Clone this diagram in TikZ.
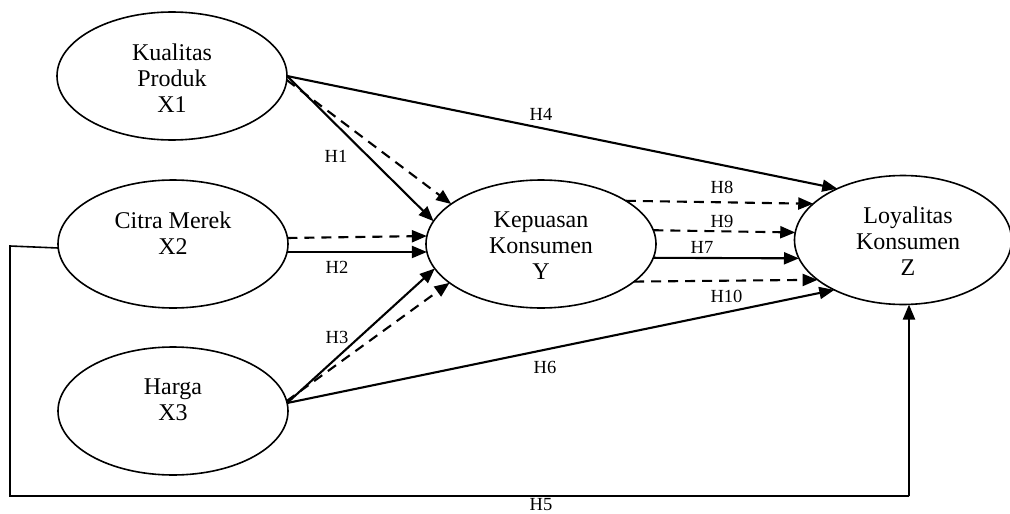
\documentclass[tikz,border=0pt]{standalone}
\usepackage{fontspec}
\setmainfont{Liberation Serif}
\usetikzlibrary{shapes.geometric,arrows.meta,calc}
\tikzset{
  ell/.style={draw, ellipse, line width=1.6pt, inner sep=0pt, outer sep=0pt,
              minimum width=230pt, minimum height=128pt},
  vtext/.style={align=center, inner sep=0pt, font=\fontsize{24}{26}\selectfont},
  hlbl/.style={inner sep=0pt, font=\fontsize{18.5}{20}\selectfont},
  arr/.style={line width=2.1pt, -{Triangle[length=15pt,width=12pt]}},
  darr/.style={arr, dash pattern=on 10pt off 7pt},
  thinline/.style={line width=1.6pt}
}
\begin{document}
\begin{tikzpicture}[x=1pt,y=-1pt]
\useasboundingbox (0,0) rectangle (1010,514);
% ellipses
\node[ell] (X1) at (172,76) {};
\node[ell] (X2) at (173,244) {};
\node[ell] (X3) at (173,411) {};
\node[ell] (Y) at (541,244) {};
\node[ell, minimum width=217pt, minimum height=129pt] (Z) at (903,240) {};
% texts
\node[vtext] (tX1) at (172,78) {Kualitas\\Produk\\X1};
\node[vtext] (tX2) at (173,233) {Citra Merek\\X2};
\node[vtext] (tX3) at (173,400) {Harga\\X3};
\node[vtext] (tY) at (541,246) {Kepuasan\\Konsumen\\Y};
\node[vtext] (tZ) at (908,241) {Loyalitas\\Konsumen\\Z};
% X1 arrows
\draw[arr] (X1.east) -- (Y.168);
\draw[darr] (X1.-2) -- (Y.156);
\draw[arr] (X1.east) -- (Z.142);
% X2 arrows
\draw[darr] (X2.3.5) -- (Y.176);
\draw[arr] (X2.-4.5) -- (Y.184);
% X3 arrows
\draw[arr] (X3.4) -- (Y.193);
\draw[darr] (X3.5) -- (Y.203);
\draw[arr] (X3.4) -- (Z.216);
% Y to Z
\draw[darr] (Y.27) -- (Z.158);
\draw[darr] (Y.7) -- (Z.176);
\draw[arr] (Y.-7.5) -- (Z.190);
\draw[darr] (Y.-22) -- (Z.205);
% H5
\coordinate (c1) at (10,246);
\coordinate (c2) at (10,496);
\coordinate (c3) at (909,496);
\draw[thinline] (X2.182) -- (c1) -- (c2) -- (c3);
\draw[arr] (c3) -- ([xshift=6pt]Z.south);
% labels
\node[hlbl] (h1) at (336,156) {H1};
\node[hlbl] (h2) at (337,267) {H2};
\node[hlbl] (h3) at (337,337) {H3};
\node[hlbl] (h4) at (541,114) {H4};
\node[hlbl] (h5) at (541,505) {H5};
\node[hlbl] (h6) at (545,367) {H6};
\node[hlbl] (h7) at (702,247.5) {H7};
\node[hlbl] (h8) at (722,187.5) {H8};
\node[hlbl] (h9) at (722,221) {H9};
\node[hlbl] (h10) at (726.5,296) {H10};
\end{tikzpicture}
\end{document}
